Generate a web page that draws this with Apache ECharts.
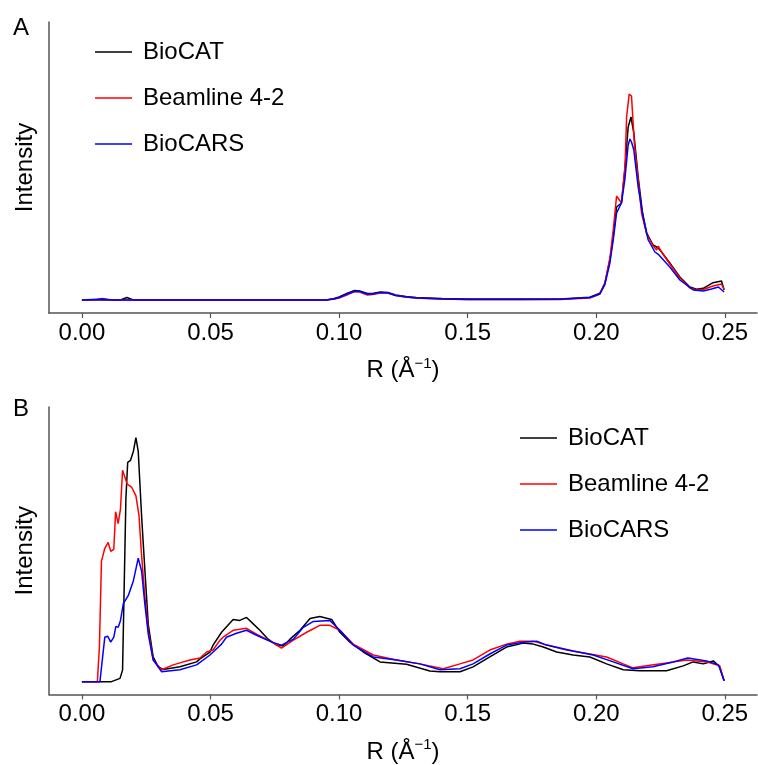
<!DOCTYPE html>
<html><head><meta charset="utf-8">
<script src="https://cdn.jsdelivr.net/npm/echarts@6/dist/echarts.min.js"></script>
<style>html,body{margin:0;padding:0;background:#fff}#c{width:758px;height:765px}</style>
</head><body><div id="c"></div>
<script>
const seriesNames = ['BioCAT', 'Beamline 4-2', 'BioCARS'];
const xTicks = [0, 0.05, 0.10, 0.15, 0.20, 0.25];

// Panel A: [R, intensity (arb.)]
const bioCAT_A = [[0,0],[0.015,0],[0.0175,2.5],[0.02,0],[0.095,0],[0.098,1.5],[0.1,3],[0.103,6.5],[0.106,9.5],[0.108,9],[0.111,6.5],[0.113,6.5],[0.116,8],[0.119,7.5],[0.122,5],[0.126,3.5],[0.13,2.5],[0.14,1.5],[0.15,1],[0.17,1],[0.186,1],[0.1975,2.7],[0.2014,6.7],[0.2033,16.7],[0.2053,40],[0.2066,63],[0.2079,93],[0.2085,95],[0.2098,97],[0.2111,130],[0.2124,173],[0.2135,183],[0.2146,167],[0.2163,123],[0.218,87],[0.2196,67],[0.2221,55],[0.2241,52],[0.2254,48],[0.2286,37],[0.2325,23],[0.2364,13],[0.239,10.7],[0.2416,11.7],[0.2454,17.3],[0.2487,19],[0.2497,10]];
const beamline_A = [[0,0],[0.006,0.5],[0.008,1.5],[0.01,0.5],[0.012,0],[0.095,0],[0.098,1],[0.1,2],[0.103,5],[0.106,8.5],[0.108,8],[0.111,5],[0.113,5.5],[0.116,7],[0.119,7],[0.122,4.5],[0.126,3],[0.13,2],[0.14,1],[0.15,0.5],[0.17,0.5],[0.186,0.5],[0.1975,2],[0.2014,6],[0.2033,16],[0.2053,42],[0.2066,70],[0.2079,104],[0.2098,97],[0.2112,135],[0.2118,183],[0.2128,206],[0.2137,204],[0.2148,157],[0.2163,120],[0.2176,87],[0.2196,66],[0.2221,54],[0.2235,50],[0.2241,54],[0.2254,48],[0.2286,36],[0.2325,22],[0.2364,12],[0.239,10],[0.2416,10.5],[0.2454,14],[0.2487,16],[0.2497,10.7]];
const bioCARS_A = [[0,0],[0.008,1],[0.01,0.5],[0.012,0],[0.095,0],[0.098,1],[0.1,2.5],[0.103,6],[0.106,8.5],[0.108,8.5],[0.111,6],[0.113,6],[0.116,7.5],[0.119,7],[0.122,4.5],[0.126,3],[0.13,2],[0.14,1],[0.15,0.5],[0.17,0.5],[0.186,0.7],[0.1975,2.5],[0.2014,6],[0.2033,15],[0.2053,37],[0.2066,60],[0.2079,87],[0.2098,97],[0.2111,120],[0.2124,155],[0.2131,161],[0.2137,158],[0.2146,150],[0.2163,113],[0.2182,83],[0.2202,60],[0.2228,48],[0.2241,45.7],[0.2286,33],[0.2325,20],[0.2377,10],[0.2416,9],[0.2448,11],[0.2475,13],[0.2497,8]];

// Panel B
const bioCAT_B = [[0,0],[0.0115,0],[0.0148,3.3],[0.0158,11.7],[0.0171,185],[0.0178,222],[0.0189,224],[0.02,233],[0.021,247],[0.0219,233],[0.0232,168],[0.0245,112],[0.0258,58],[0.0277,25],[0.0297,15],[0.0316,12.3],[0.0381,15],[0.0446,20],[0.0459,23],[0.0498,30],[0.051,37],[0.0543,50],[0.0549,52],[0.0588,63],[0.0614,62],[0.064,65],[0.066,60],[0.0692,52],[0.0724,43],[0.0757,37],[0.0783,36],[0.0809,43],[0.0848,52],[0.0887,64],[0.0925,66],[0.0971,63],[0.1003,50],[0.1042,40],[0.1094,30],[0.1159,20],[0.1262,17.7],[0.1353,10.7],[0.1392,10],[0.147,10],[0.1521,15],[0.1586,25],[0.1651,35],[0.1716,39],[0.1755,38],[0.1794,35],[0.1846,30],[0.191,27],[0.1975,25],[0.204,18],[0.2105,12],[0.2169,11],[0.2273,11],[0.2338,16],[0.2377,20],[0.2416,18],[0.2455,21],[0.248,15],[0.2497,1]];
const beamline_B = [[0,0],[0.006,0],[0.0068,35],[0.0076,122],[0.0089,135],[0.0102,141],[0.0112,132],[0.0124,134],[0.0131,172],[0.0141,160],[0.015,175],[0.0158,214],[0.0176,200],[0.0193,197],[0.021,188],[0.0222,168],[0.0232,128],[0.0245,85],[0.0258,52],[0.0277,22],[0.031,12],[0.0355,17],[0.0381,19],[0.042,22],[0.0459,24],[0.0485,30],[0.051,32],[0.0537,42],[0.0549,45],[0.0588,52],[0.064,54],[0.0679,48],[0.0739,40],[0.0776,34],[0.0822,42],[0.0874,50],[0.0925,57],[0.0964,57],[0.1003,52],[0.1055,38],[0.1133,27],[0.1223,22],[0.1314,18],[0.1405,13],[0.147,18],[0.1521,22],[0.1586,32],[0.1651,38],[0.1703,41],[0.1755,41],[0.1807,37],[0.1885,32],[0.1975,28],[0.204,25],[0.2105,18],[0.2143,14],[0.2195,16],[0.2273,19],[0.2351,22],[0.2429,20],[0.248,16],[0.2497,1]];
const bioCARS_B = [[0,0],[0.007,0],[0.0089,45],[0.01,46],[0.0112,40],[0.0124,45],[0.0132,56],[0.0141,55],[0.015,62],[0.0161,79],[0.018,87],[0.02,102],[0.0219,125],[0.0232,112],[0.0245,78],[0.0258,48],[0.0277,22],[0.031,10],[0.0381,12],[0.0446,17],[0.0498,27],[0.051,30],[0.0543,38],[0.0562,45],[0.0601,49],[0.064,52],[0.0679,47],[0.0739,40],[0.0776,37],[0.0822,43],[0.0861,55],[0.09,61],[0.0964,62],[0.1003,52],[0.1055,37],[0.1133,25],[0.1223,22],[0.1314,18],[0.1392,12],[0.147,13],[0.1521,18],[0.1586,28],[0.1651,37],[0.1716,40],[0.1768,41],[0.1807,37],[0.191,31],[0.1988,27],[0.2066,20],[0.2143,13],[0.222,15],[0.2299,20],[0.2356,24],[0.2429,21],[0.2475,17],[0.2497,1]];

const colors = ['#000000', '#ff0000', '#0000ff'];
const FONT = 'Liberation Sans, Arial, Helvetica, sans-serif';
const axisColor = '#555';

function xAxisCfg(gridIndex) {
  return {
    type: 'value', gridIndex, min: -0.0128, max: 0.2625,
    name: '{n|R (Å}{s|−1}{n|)}', nameLocation: 'middle', nameGap: 43,
    nameTextStyle: { rich: {
      n: { fontSize: 24, fontFamily: FONT, color: '#000' },
      s: { fontSize: 15, fontFamily: FONT, color: '#000', verticalAlign: 'top', padding: [0, 0, 14, 0] }
    }},
    axisLine: { show: true, onZero: false, lineStyle: { color: axisColor, width: 1.5 } },
    axisTick: { show: true, length: 5, customValues: xTicks, lineStyle: { color: axisColor, width: 1.2 } },
    axisLabel: { customValues: xTicks, margin: 8, fontSize: 24, fontFamily: FONT, color: '#000', formatter: v => v.toFixed(2) },
    splitLine: { show: false }
  };
}
function yAxisCfg(gridIndex, min, max) {
  return {
    type: 'value', gridIndex, min, max,
    name: 'Intensity', nameLocation: 'middle', nameGap: 12,
    nameTextStyle: { fontSize: 24, fontFamily: FONT, color: '#000' },
    axisLine: { show: true, onZero: false, lineStyle: { color: axisColor, width: 1.5 } },
    axisTick: { show: false }, axisLabel: { show: false }, splitLine: { show: false }
  };
}
function mk(name, data, idx, c) {
  return { name, type: 'line', xAxisIndex: idx, yAxisIndex: idx, data, showSymbol: false, symbol: 'none',
    lineStyle: { color: c, width: 1.5 }, itemStyle: { color: c }, animation: false };
}
function legendCfg(left, top) {
  return { data: seriesNames, orient: 'vertical', left, top, padding: 0, icon: 'rect', itemWidth: 37, itemHeight: 1.5,
    itemGap: 22, textStyle: { fontSize: 24, fontFamily: FONT, color: '#000', padding: [0, 0, 0, 6] } };
}

const chart = echarts.init(document.getElementById('c'), null, { renderer: 'canvas' });
chart.setOption({
  animation: false,
  title: [
    { text: 'A', left: 13, top: 16, padding: 0, textStyle: { fontSize: 24, fontWeight: 'normal', fontFamily: FONT, color: '#000' } },
    { text: 'B', left: 13, top: 397, padding: 0, textStyle: { fontSize: 24, fontWeight: 'normal', fontFamily: FONT, color: '#000' } }
  ],
  legend: [legendCfg(95, 40), legendCfg(520, 426)],
  grid: [
    { left: 49, top: 22, width: 708, height: 291 },
    { left: 49, top: 407, width: 708, height: 291 }
  ],
  xAxis: [xAxisCfg(0), xAxisCfg(1)],
  yAxis: [yAxisCfg(0, -13, 278), yAxisCfg(1, -13, 278)],
  series: [
    mk(seriesNames[0], bioCAT_A, 0, colors[0]),
    mk(seriesNames[1], beamline_A, 0, colors[1]),
    mk(seriesNames[2], bioCARS_A, 0, colors[2]),
    mk(seriesNames[0], bioCAT_B, 1, colors[0]),
    mk(seriesNames[1], beamline_B, 1, colors[1]),
    mk(seriesNames[2], bioCARS_B, 1, colors[2])
  ]
});
</script></body></html>
